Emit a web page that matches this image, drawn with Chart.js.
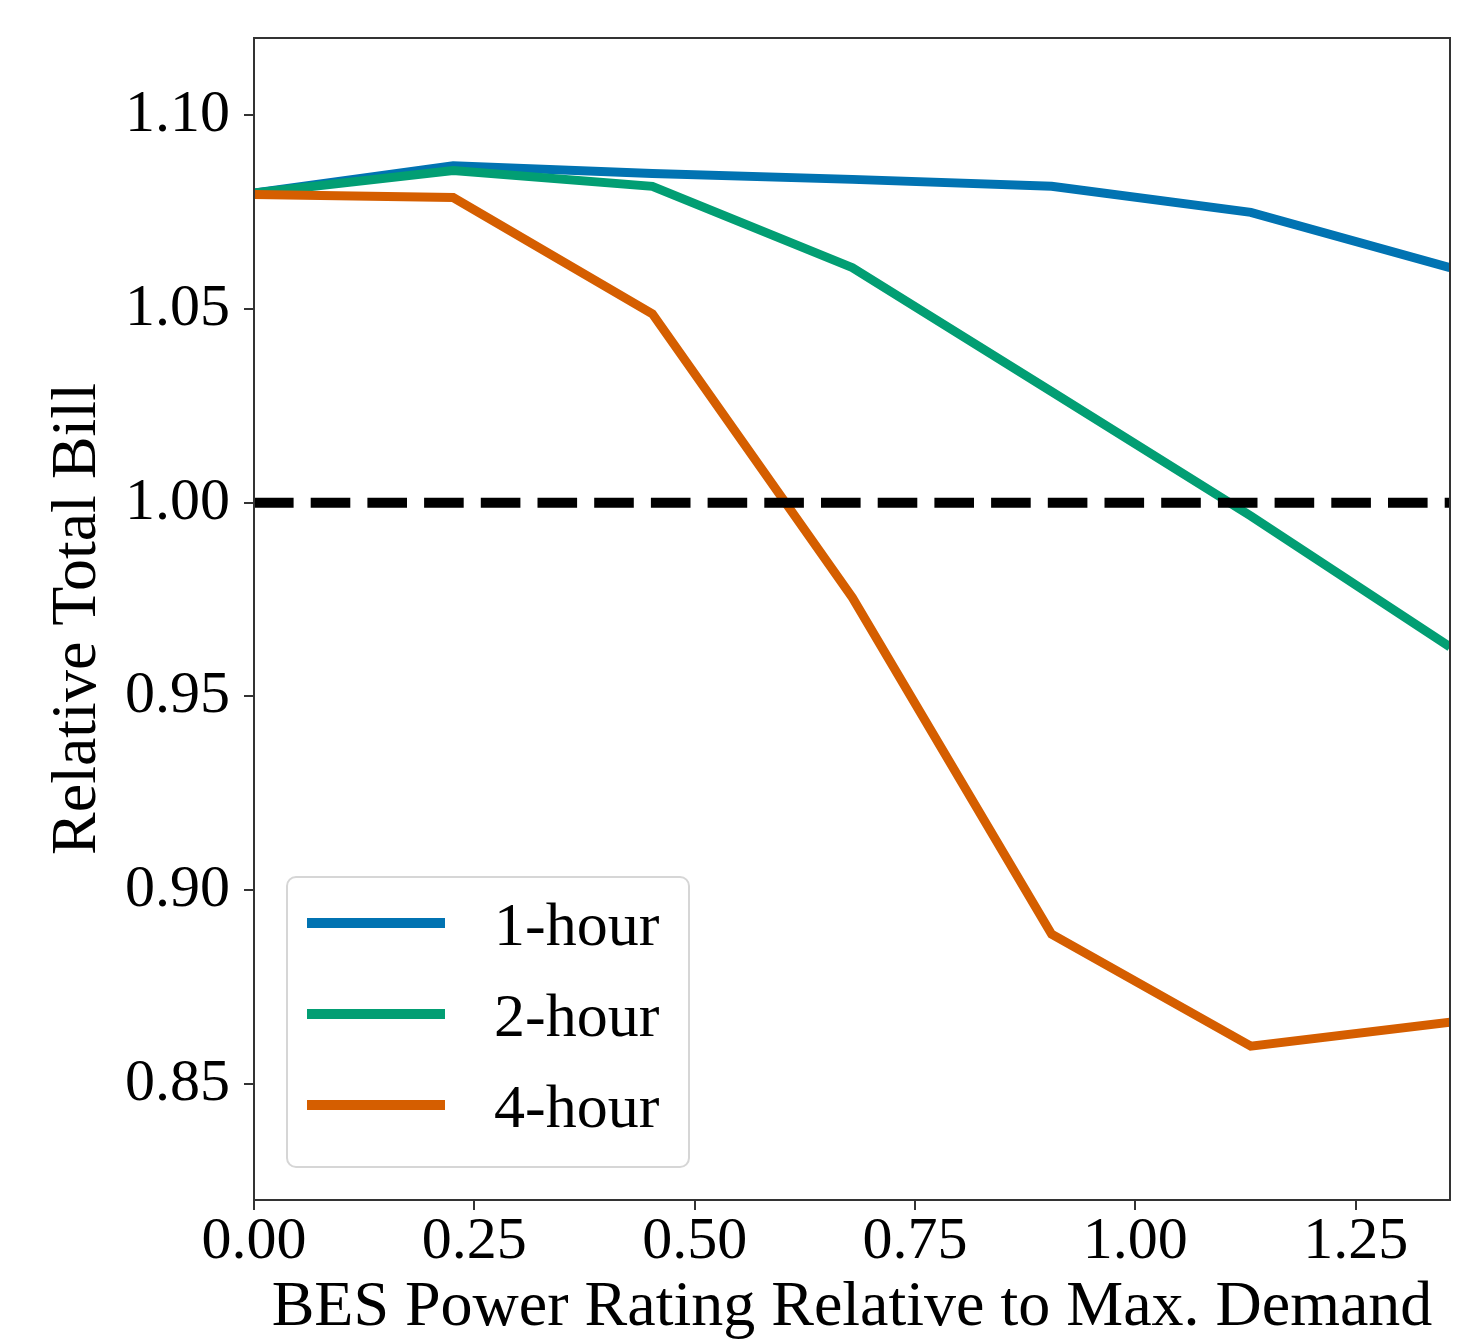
<!DOCTYPE html>
<html>
<head>
<meta charset="utf-8">
<script src="https://cdn.jsdelivr.net/npm/chart.js@4.4.1/dist/chart.umd.min.js"></script>
<style>
  html, body { margin: 0; padding: 0; background: #fff; }
</style>
</head>
<body>
<canvas id="billChart" width="1477" height="1341"></canvas>
<script>
// data
const powerRatings = [0, 0.226, 0.452, 0.679, 0.905, 1.131, 1.357];
const seriesNames = ["1-hour", "2-hour", "4-hour"];
const oneHour = [1.0800, 1.0870, 1.0850, 1.0835, 1.0817, 1.0750, 1.0607];
const twoHour = [1.0800, 1.0858, 1.0817, 1.0607, 1.0287, 0.9966, 0.9628];
const fourHour = [1.0796, 1.0788, 1.0488, 0.9755, 0.8886, 0.8597, 0.8659];
const baseline = 1.0;
const xTicks = [0, 0.25, 0.5, 0.75, 1.0, 1.25];
const yTicks = [0.85, 0.90, 0.95, 1.00, 1.05, 1.10];

const colors = ["#0173B2", "#029E73", "#D55E00"];
const serif = "'Liberation Serif', 'Times New Roman', serif";

function pts(ys) {
  return powerRatings.map((x, i) => ({ x: x, y: ys[i] }));
}

// plot frame + legend box inside the axes
const frameAndLegend = {
  id: "frameAndLegend",
  afterDraw(chart) {
    const { ctx, chartArea: a } = chart;
    ctx.save();
    ctx.strokeStyle = "#333";
    ctx.lineWidth = 2;
    ctx.strokeRect(a.left, a.top, a.right - a.left, a.bottom - a.top);

    const items = chart.data.datasets.filter(d => d.inLegend);
    const w = 402, h = 290;
    const bx = a.left + 33, by = a.bottom - 33 - h;
    ctx.beginPath();
    ctx.roundRect(bx, by, w, h, 9);
    ctx.fillStyle = "rgba(255,255,255,0.8)";
    ctx.fill();
    ctx.strokeStyle = "#d6d6d6";
    ctx.lineWidth = 2;
    ctx.stroke();

    ctx.font = "62px " + serif;
    ctx.textBaseline = "middle";
    ctx.textAlign = "left";
    items.forEach((d, i) => {
      const y = by + 46 + i * 91;
      ctx.beginPath();
      ctx.moveTo(bx + 20, y);
      ctx.lineTo(bx + 158, y);
      ctx.strokeStyle = d.borderColor;
      ctx.lineWidth = 10;
      ctx.stroke();
      ctx.fillStyle = "#000";
      ctx.fillText(d.label, bx + 207, y + 6);
    });
    ctx.restore();
  }
};

new Chart(document.getElementById("billChart"), {
  type: "line",
  data: {
    datasets: [
      {
        label: "baseline",
        data: [{ x: powerRatings[0], y: baseline }, { x: powerRatings[powerRatings.length - 1], y: baseline }],
        borderColor: "#000", borderWidth: 10, borderDash: [39.6, 17.1],
        pointRadius: 0, order: 0, inLegend: false
      },
      { label: seriesNames[0], data: pts(oneHour), borderColor: colors[0], borderWidth: 9, pointRadius: 0, order: 3, inLegend: true },
      { label: seriesNames[1], data: pts(twoHour), borderColor: colors[1], borderWidth: 9, pointRadius: 0, order: 2, inLegend: true },
      { label: seriesNames[2], data: pts(fourHour), borderColor: colors[2], borderWidth: 9, pointRadius: 0, order: 1, inLegend: true }
    ]
  },
  options: {
    responsive: false,
    animation: false,
    devicePixelRatio: 1,
    layout: { padding: { top: 38, right: 27, left: 0, bottom: 0 } },
    plugins: { legend: { display: false }, tooltip: { enabled: false } },
    scales: {
      x: {
        type: "linear",
        min: 0, max: 1.357,
        afterBuildTicks: s => { s.ticks = xTicks.map(v => ({ value: v })); },
        afterFit: s => { s.height = 141; s.paddingLeft = 0; s.paddingRight = 0; },
        ticks: {
          color: "#000", padding: 2, maxRotation: 0, autoSkip: false,
          font: { family: serif, size: 60, lineHeight: 1 },
          callback: v => Number(v).toFixed(2)
        },
        grid: { drawOnChartArea: false, tickLength: 10, color: "#333", lineWidth: 2 },
        border: { display: false },
        title: {
          display: true, text: "BES Power Rating Relative to Max. Demand", color: "#000",
          font: { family: serif, size: 64, lineHeight: 1 }, padding: { top: 0, bottom: 1 }
        }
      },
      y: {
        min: 0.82, max: 1.12,
        afterBuildTicks: s => { s.ticks = yTicks.map(v => ({ value: v })); },
        afterFit: s => { s.width = 254; s.paddingTop = 0; s.paddingBottom = 0; },
        ticks: {
          color: "#000", padding: 14,
          font: { family: serif, size: 60, lineHeight: 1 },
          callback: v => Number(v).toFixed(2)
        },
        grid: { drawOnChartArea: false, tickLength: 10, color: "#333", lineWidth: 2 },
        border: { display: false },
        title: {
          display: true, text: "Relative Total Bill", color: "#000",
          font: { family: serif, size: 64, lineHeight: 1 }, padding: { top: 46, bottom: 0 }
        }
      }
    }
  },
  plugins: [frameAndLegend]
});
</script>
</body>
</html>
